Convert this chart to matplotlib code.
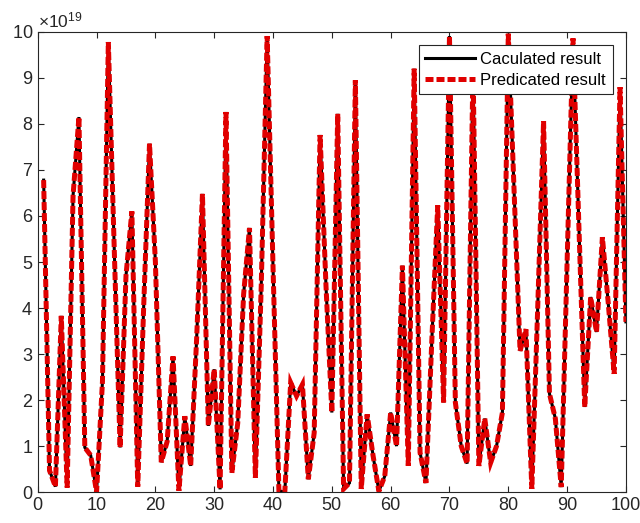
import matplotlib

matplotlib.use("Agg")
import matplotlib.pyplot as plt
from matplotlib.ticker import ScalarFormatter
import numpy as np

plt.rcParams["font.family"] = ["Liberation Sans", "DejaVu Sans"]
plt.rcParams["mathtext.fontset"] = "custom"
plt.rcParams["mathtext.rm"] = "Liberation Sans"

# sample index 1..100, values in units of 1e19
sample = np.arange(1, 101)
calculated = [
    6.78, 0.47, 0.12, 3.83, 0.10, 6.44, 8.15, 0.97, 0.80, 0.00,
    2.40, 9.78, 5.30, 0.97, 4.70, 6.10, 0.12, 4.00, 7.57, 5.00,
    0.65, 1.10, 2.95, 0.03, 1.65, 0.57, 3.30, 6.48, 1.44, 2.67,
    0.06, 8.26, 0.42, 1.50, 4.30, 5.74, 0.31, 4.50, 9.91, 4.90,
    0.03, 0.00, 2.38, 2.09, 2.34, 0.28, 1.29, 7.76, 4.50, 1.73,
    8.22, 0.07, 0.20, 8.95, 0.07, 1.69, 0.80, 0.02, 0.35, 1.73,
    1.00, 4.92, 0.57, 9.20, 0.86, 0.20, 3.30, 6.23, 1.95, 9.91,
    1.95, 1.00, 0.62, 9.30, 0.57, 1.60, 0.64, 1.00, 1.73, 9.96,
    6.50, 3.07, 3.54, 0.07, 4.00, 8.06, 2.14, 1.60, 0.11, 5.00,
    9.86, 5.80, 1.85, 4.24, 3.48, 5.54, 4.10, 2.57, 8.80, 3.70,
]
predicated = list(calculated)
scale = 1e19

fig = plt.figure(figsize=(6.4, 5.23), dpi=100)
ax = fig.add_axes([0.059, 0.059, 0.919, 0.88])

ax.plot(sample, np.array(calculated) * scale, color="black", lw=2.2,
        solid_joinstyle="miter", label="Caculated result")
ax.plot(sample, np.array(predicated) * scale, color="#e00000", lw=3.6,
        linestyle=(0, (1.6, 0.6)), dash_joinstyle="miter",
        dash_capstyle="butt", label="Predicated result")

ax.set_xlim(0, 100)
ax.set_ylim(0, 10 * scale)
ax.set_xticks(np.arange(0, 101, 10))
ax.set_yticks(np.arange(0, 11, 1) * scale)

fmt = ScalarFormatter(useMathText=True)
fmt.set_powerlimits((19, 19))
ax.yaxis.set_major_formatter(fmt)
ax.yaxis.get_offset_text().set_fontsize(12.5)
ax.yaxis.get_offset_text().set_color("#262626")

ax.tick_params(direction="in", length=4, width=0.8, labelsize=13,
               colors="#262626", top=True, right=True,
               labeltop=False, labelright=False)
for sp in ax.spines.values():
    sp.set_color("#262626")
    sp.set_linewidth(0.8)

leg = ax.legend(loc="upper right", fontsize=12, fancybox=False,
                framealpha=1, edgecolor="#262626", handlelength=3.0,
                borderpad=0.4, labelspacing=0.35, handletextpad=0.3,
                borderaxespad=0.8)
leg.get_frame().set_linewidth(0.8)

fig.savefig("out.png", dpi=100)
